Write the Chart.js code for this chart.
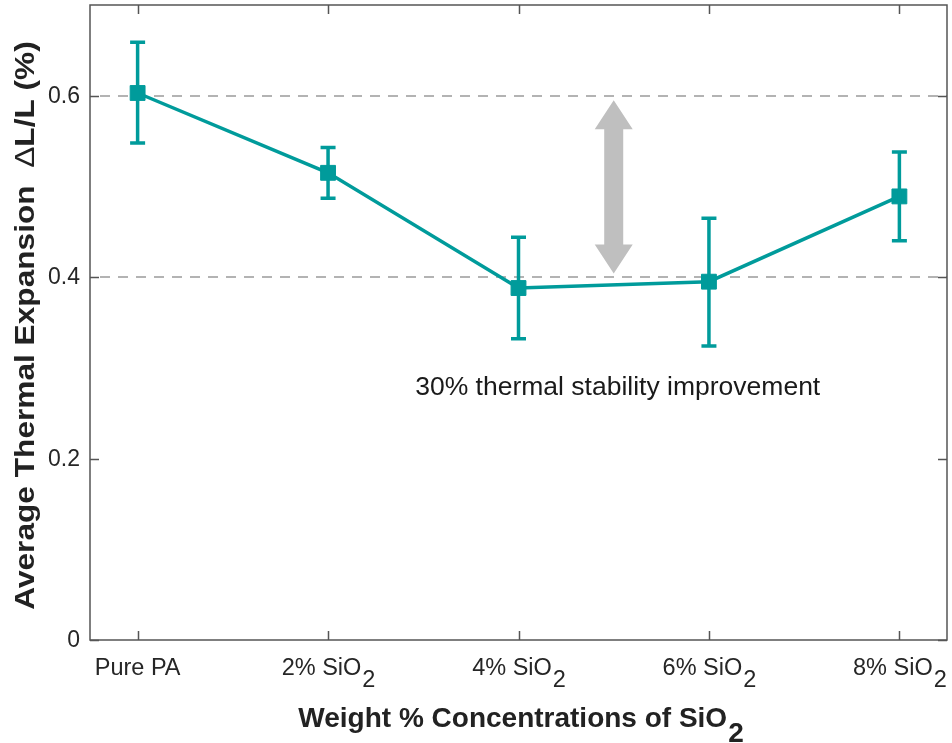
<!DOCTYPE html>
<html>
<head>
<meta charset="utf-8">
<script src="https://cdn.jsdelivr.net/npm/chart.js@4"></script>
<style>
  body { margin: 0; background: #fff; }
  #wrap { width: 952px; height: 743px; position: relative; }
</style>
</head>
<body>
<div id="wrap"><canvas id="myChart"></canvas></div>
<script>
// sample groups, "_" marks a subscript
const categories = ['Pure PA', '2% SiO_2', '4% SiO_2', '6% SiO_2', '8% SiO_2'];
const meanExpansion = [0.603, 0.515, 0.388, 0.395, 0.489];
const errLow = [0.548, 0.487, 0.332, 0.324, 0.440];
const errHigh = [0.659, 0.543, 0.444, 0.465, 0.538];

const yTicks = [0, 0.2, 0.4, 0.6];
const yTickLabels = ['0', '0.2', '0.4', '0.6'];
const refLines = [0.4, 0.6];

const arrowX = 2.5;
const arrowFrom = 0.404;
const arrowTo = 0.595;
const noteText = '30% thermal stability improvement';
const noteY = 0.278;

const FONT = "'Liberation Sans', Arial, Helvetica, sans-serif";
const teal = '#009b9b';
const txt = '#262626';
const frameColor = '#555';

// draw "SiO_2" style text centred at x
function subText(ctx, label, x, y, size, bold, drop) {
    const parts = label.split('_');
    ctx.font = (bold ? 'bold ' : '') + size + 'px ' + FONT;
    const w1 = ctx.measureText(parts[0]).width;
    const w2 = parts[1] ? ctx.measureText(parts[1]).width : 0;
    let sx = x - (w1 + w2) / 2;
    ctx.textAlign = 'left';
    ctx.fillText(parts[0], sx, y);
    if (parts[1]) ctx.fillText(parts[1], sx + w1 + 1, y + drop);
}

const decor = {
    id: 'decor',
    beforeDatasetsDraw(chart) {
        const { ctx, chartArea: a, scales: { x, y } } = chart;
        ctx.save();
        // dashed reference levels
        ctx.strokeStyle = '#b3b3b3';
        ctx.lineWidth = 2;
        ctx.setLineDash([10, 8]);
        refLines.forEach(v => {
            const py = Math.round(y.getPixelForValue(v));
            ctx.beginPath();
            ctx.moveTo(a.left + 10, py);
            ctx.lineTo(a.right, py);
            ctx.stroke();
        });
        ctx.setLineDash([]);

        // double headed arrow
        const ax = x.getPixelForValue(arrowX);
        const top = y.getPixelForValue(arrowTo);
        const bot = y.getPixelForValue(arrowFrom);
        const sw = 9.5, hw = 19, hl = 29;
        ctx.fillStyle = '#bfbfbf';
        ctx.beginPath();
        ctx.moveTo(ax, top);
        ctx.lineTo(ax + hw, top + hl);
        ctx.lineTo(ax + sw, top + hl);
        ctx.lineTo(ax + sw, bot - hl);
        ctx.lineTo(ax + hw, bot - hl);
        ctx.lineTo(ax, bot);
        ctx.lineTo(ax - hw, bot - hl);
        ctx.lineTo(ax - sw, bot - hl);
        ctx.lineTo(ax - sw, top + hl);
        ctx.lineTo(ax - hw, top + hl);
        ctx.closePath();
        ctx.fill();

        // annotation
        ctx.fillStyle = '#1a1a1a';
        ctx.font = '26.5px ' + FONT;
        ctx.textAlign = 'center';
        ctx.textBaseline = 'middle';
        ctx.fillText(noteText, ax + 4, y.getPixelForValue(noteY));
        ctx.restore();
    },
    afterDatasetsDraw(chart) {
        const { ctx, scales: { x, y } } = chart;
        ctx.save();
        // error bars
        ctx.strokeStyle = teal;
        ctx.lineWidth = 3.5;
        meanExpansion.forEach((v, i) => {
            const px = x.getPixelForValue(i);
            const lo = y.getPixelForValue(errLow[i]);
            const hi = y.getPixelForValue(errHigh[i]);
            ctx.beginPath();
            ctx.moveTo(px, lo); ctx.lineTo(px, hi);
            ctx.moveTo(px - 7.5, lo); ctx.lineTo(px + 7.5, lo);
            ctx.moveTo(px - 7.5, hi); ctx.lineTo(px + 7.5, hi);
            ctx.stroke();
        });
        ctx.restore();
    },
    afterDraw(chart) {
        const { ctx, chartArea: a, scales: { x, y } } = chart;
        ctx.save();
        // box and inward ticks
        ctx.strokeStyle = frameColor;
        ctx.lineWidth = 1.5;
        ctx.strokeRect(a.left, a.top, a.right - a.left, a.bottom - a.top);
        ctx.beginPath();
        categories.forEach((c, i) => {
            const px = Math.round(x.getPixelForValue(i)) + 0.5;
            ctx.moveTo(px, a.bottom); ctx.lineTo(px, a.bottom - 9);
            ctx.moveTo(px, a.top); ctx.lineTo(px, a.top + 9);
        });
        yTicks.forEach(v => {
            const py = Math.round(y.getPixelForValue(v)) + 0.5;
            ctx.moveTo(a.left, py); ctx.lineTo(a.left + 9, py);
            ctx.moveTo(a.right, py); ctx.lineTo(a.right - 9, py);
        });
        ctx.stroke();

        // tick labels
        ctx.fillStyle = txt;
        ctx.textBaseline = 'alphabetic';
        categories.forEach((c, i) => {
            subText(ctx, c, x.getPixelForValue(i), a.bottom + 35, 23.5, false, 12);
        });
        ctx.font = '23px ' + FONT;
        ctx.textAlign = 'right';
        ctx.textBaseline = 'middle';
        yTicks.forEach((v, i) => {
            ctx.fillText(yTickLabels[i], a.left - 10, y.getPixelForValue(v) + 1);
        });

        // axis titles
        ctx.textBaseline = 'alphabetic';
        ctx.fillStyle = '#222';
        subText(ctx, 'Weight % Concentrations of SiO_2', (a.left + a.right) / 2 + 2, 727, 28, true, 15);

        ctx.translate(34, (a.top + a.bottom) / 2 + 3);
        ctx.rotate(-Math.PI / 2);
        ctx.scale(1.13, 1);
        const segs = [['Average Thermal Expansion  ', 'bold '], ['\u0394', ''], ['L/L (%)', 'bold ']];
        let total = 0;
        segs.forEach(s => { ctx.font = s[1] + '28px ' + FONT; total += ctx.measureText(s[0]).width; });
        let sx = -total / 2;
        ctx.textAlign = 'left';
        segs.forEach(s => {
            ctx.font = s[1] + '28px ' + FONT;
            ctx.fillText(s[0], sx, 0);
            sx += ctx.measureText(s[0]).width;
        });
        ctx.restore();
    }
};

const ctx = document.getElementById('myChart').getContext('2d');

const myChart = new Chart(ctx, {
    type: 'line',
    data: {
        datasets: [{
            label: 'Average thermal expansion',
            data: meanExpansion.map((v, i) => ({ x: i, y: v })),
            borderColor: teal,
            backgroundColor: teal,
            borderWidth: 3.5,
            pointStyle: 'rect',
            pointRadius: 10.5,
            pointBorderWidth: 1,
            tension: 0
        }]
    },
    options: {
        responsive: true,
        maintainAspectRatio: false,
        animation: false,
        layout: { autoPadding: false, padding: { left: 90, right: 5, top: 5, bottom: 103 } },
        plugins: {
            legend: false,
            tooltip: { enabled: false }
        },
        scales: {
            x: { type: 'linear', min: -0.25, max: 4.25, display: false },
            y: { min: 0, max: 0.7, display: false }
        }
    },
    plugins: [decor]
});
</script>
</body>
</html>
